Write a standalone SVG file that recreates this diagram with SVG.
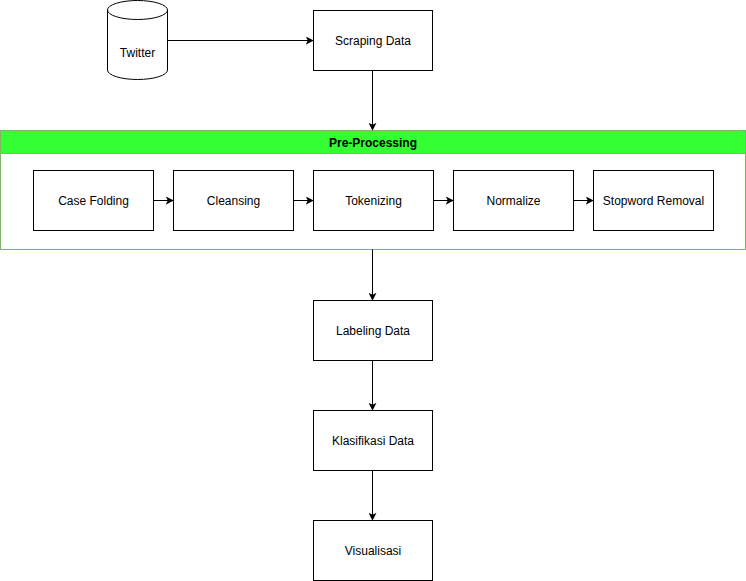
<svg xmlns="http://www.w3.org/2000/svg" width="746" height="581" viewBox="0 0 746 581">
  <style>
    .box { fill: #ffffff; stroke: #000000; stroke-width: 1; }
    .lbl { font-family: "Liberation Sans", Arial, sans-serif; font-size: 12px; fill: #000000; text-anchor: middle; dominant-baseline: central; }
    .hdr { font-family: "Liberation Sans", Arial, sans-serif; font-size: 12px; font-weight: bold; fill: #000000; text-anchor: middle; dominant-baseline: central; }
    .edge { fill: none; stroke: #000000; stroke-width: 1; }
  </style>
  <defs>
    <marker id="arrow" viewBox="0 0 10 10" refX="9" refY="5" markerWidth="8" markerHeight="8" markerUnits="userSpaceOnUse" orient="auto">
      <path d="M0,0 L10,5 L0,10 L2.5,5 Z" fill="#000000"/>
    </marker>
  </defs>

  <rect width="746" height="581" fill="#ffffff"/>

  <!-- Pre-Processing container -->
  <g id="pre-processing">
    <rect x="0.5" y="130.5" width="745" height="119" fill="#ffffff" stroke="#82b366"/>
    <rect x="0.5" y="130.5" width="745" height="23" fill="#33ff33" stroke="#82b366"/>
    <text class="hdr" x="373" y="142.5">Pre-Processing</text>
  </g>

  <g id="twitter">
    <path d="M107.5,10 A30,9.5 0 0 1 167.5,10 L167.5,70 A30,9.5 0 0 1 107.5,70 Z" class="box"/>
    <path d="M107.5,10 A30,9.5 0 0 0 167.5,10" class="edge"/>
    <text class="lbl" x="137.5" y="53">Twitter</text>
  </g>

  <g id="scraping-data">
    <rect class="box" x="313.5" y="10.5" width="119" height="60"/>
    <text class="lbl" x="373" y="40.5">Scraping Data</text>
  </g>

  <g id="case-folding">
    <rect class="box" x="33.5" y="170.5" width="120" height="60"/>
    <text class="lbl" x="93.5" y="200.5">Case Folding</text>
  </g>
  <g id="cleansing">
    <rect class="box" x="173.5" y="170.5" width="120" height="60"/>
    <text class="lbl" x="233.5" y="200.5">Cleansing</text>
  </g>
  <g id="tokenizing">
    <rect class="box" x="313.5" y="170.5" width="120" height="60"/>
    <text class="lbl" x="373.5" y="200.5">Tokenizing</text>
  </g>
  <g id="normalize">
    <rect class="box" x="453.5" y="170.5" width="120" height="60"/>
    <text class="lbl" x="513.5" y="200.5">Normalize</text>
  </g>
  <g id="stopword-removal">
    <rect class="box" x="593.5" y="170.5" width="120" height="60"/>
    <text class="lbl" x="653.5" y="200.5">Stopword Removal</text>
  </g>

  <g id="labeling-data">
    <rect class="box" x="313.5" y="300.5" width="119" height="60"/>
    <text class="lbl" x="373" y="330.5">Labeling Data</text>
  </g>
  <g id="klasifikasi-data">
    <rect class="box" x="313.5" y="410.5" width="119" height="60"/>
    <text class="lbl" x="373" y="440.5">Klasifikasi Data</text>
  </g>
  <g id="visualisasi">
    <rect class="box" x="313.5" y="520.5" width="119" height="60"/>
    <text class="lbl" x="373" y="550.5">Visualisasi</text>
  </g>

  <!-- connectors -->
  <g id="connectors">
    <path class="edge" marker-end="url(#arrow)" d="M167.5,40.5 L313,40.5"/>
    <path class="edge" marker-end="url(#arrow)" d="M372.5,70.5 L372.5,130"/>
    <path class="edge" marker-end="url(#arrow)" d="M153.5,200.5 L173,200.5"/>
    <path class="edge" marker-end="url(#arrow)" d="M293.5,200.5 L313,200.5"/>
    <path class="edge" marker-end="url(#arrow)" d="M433.5,200.5 L453,200.5"/>
    <path class="edge" marker-end="url(#arrow)" d="M573.5,200.5 L593,200.5"/>
    <path class="edge" marker-end="url(#arrow)" d="M372.5,249.5 L372.5,300"/>
    <path class="edge" marker-end="url(#arrow)" d="M372.5,360.5 L372.5,410"/>
    <path class="edge" marker-end="url(#arrow)" d="M372.5,470.5 L372.5,520"/>
  </g>
</svg>
